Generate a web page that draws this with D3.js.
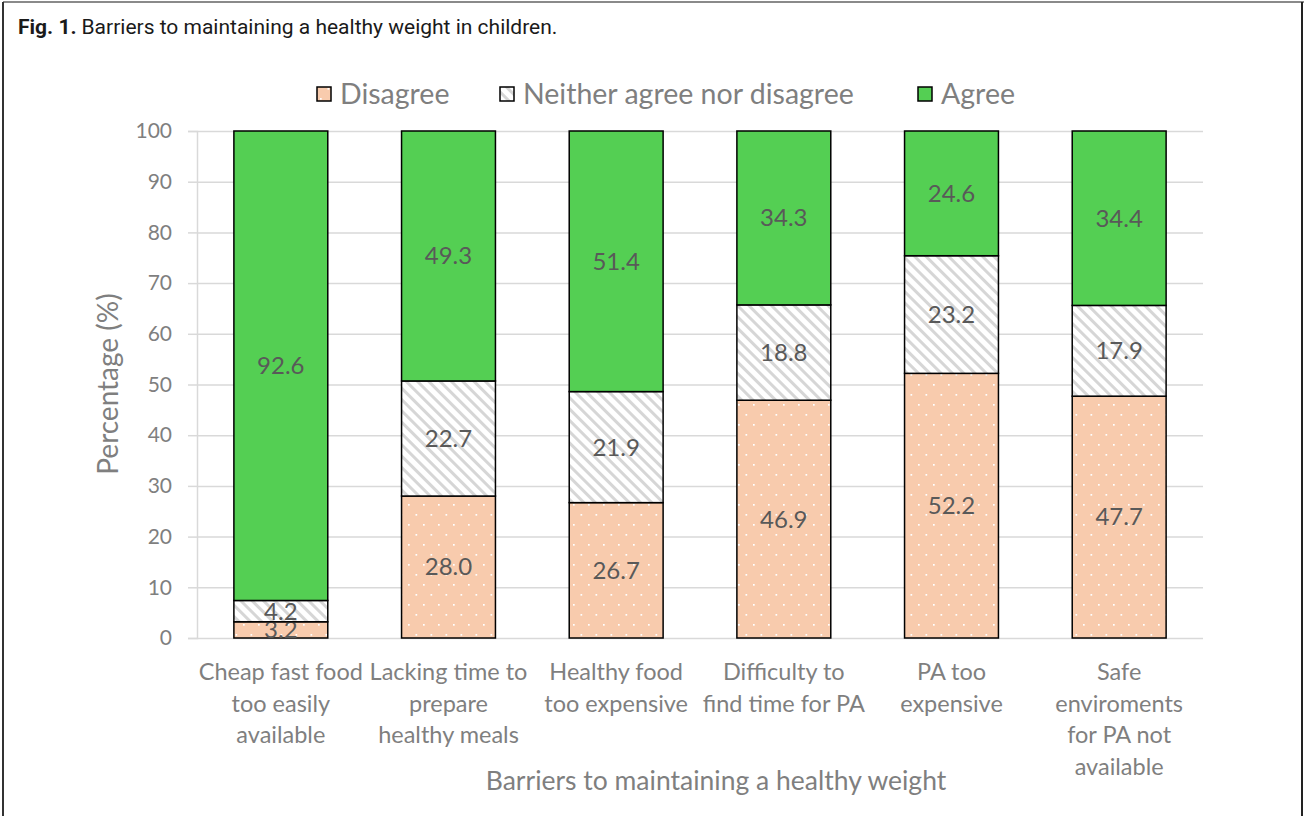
<!DOCTYPE html>
<html>
<head>
<meta charset="utf-8">
<script src="https://cdn.jsdelivr.net/npm/d3@7"></script>
<style>
  body { margin: 0; background: #fff; }
  svg { display: block; }
</style>
</head>
<body>
<div id="chart"></div>
<script>
const categories = [
    ["Cheap fast food", "too easily", "available"],
    ["Lacking time to", "prepare", "healthy meals"],
    ["Healthy food", "too expensive"],
    ["Difficulty to", "find time for PA"],
    ["PA too", "expensive"],
    ["Safe", "enviroments", "for PA not", "available"]
];
const disagree = [3.2, 28.0, 26.7, 46.9, 52.2, 47.7];
const neither = [4.2, 22.7, 21.9, 18.8, 23.2, 17.9];
const agree = [92.6, 49.3, 51.4, 34.3, 24.6, 34.4];
const seriesNames = ["Disagree", "Neither agree nor disagree", "Agree"];
const yTicks = [0, 10, 20, 30, 40, 50, 60, 70, 80, 90, 100];

const W = 1304, H = 816;
const plot = {left: 197, right: 1203, top: 131, bottom: 638};
const font = "Lato, 'Open Sans', sans-serif";

const svg = d3.select("#chart").append("svg")
    .attr("width", W)
    .attr("height", H);

// Patterns
const defs = svg.append("defs");
const dots = defs.append("pattern")
    .attr("id", "dots")
    .attr("patternUnits", "userSpaceOnUse")
    .attr("width", 15)
    .attr("height", 20);
dots.append("rect").attr("width", 15).attr("height", 20).attr("fill", "#f8cbad");
dots.append("rect").attr("x", 3).attr("y", 4).attr("width", 1.7).attr("height", 1.7).attr("fill", "#fff");
dots.append("rect").attr("x", 10.5).attr("y", 14).attr("width", 1.7).attr("height", 1.7).attr("fill", "#fff");

const stripes = defs.append("pattern")
    .attr("id", "stripes")
    .attr("patternUnits", "userSpaceOnUse")
    .attr("width", 8)
    .attr("height", 8)
    .attr("patternTransform", "rotate(-45)");
stripes.append("rect").attr("width", 8).attr("height", 8).attr("fill", "#fff");
stripes.append("rect").attr("x", 0).attr("width", 3).attr("height", 8).attr("fill", "#d6d6d6");

const fills = ["url(#dots)", "url(#stripes)", "#54cf53"];

// Figure frame
svg.append("line").attr("x1", 3).attr("x2", W).attr("y1", 2).attr("y2", 2)
    .attr("stroke", "#8a8a8a").attr("stroke-width", 2);
svg.append("line").attr("x1", 3).attr("x2", 3).attr("y1", 2).attr("y2", H)
    .attr("stroke", "#333").attr("stroke-width", 2);
svg.append("line").attr("x1", 1302).attr("x2", 1302).attr("y1", 2).attr("y2", H)
    .attr("stroke", "#222").attr("stroke-width", 2);

// Caption
const cap = svg.append("text")
    .attr("x", 18)
    .attr("y", 34)
    .style("font-family", "Roboto, sans-serif")
    .style("font-size", "21px")
    .attr("fill", "#1a1a1a");
cap.append("tspan").style("font-weight", "bold").text("Fig. 1.");
cap.append("tspan").attr("dx", 5).text("Barriers to maintaining a healthy weight in children.");

// Scales
const xScale = d3.scaleBand()
    .domain(d3.range(categories.length))
    .range([plot.left, plot.right])
    .paddingInner(0.44)
    .paddingOuter(0.22);

const yScale = d3.scaleLinear()
    .domain([0, 100])
    .range([plot.bottom, plot.top]);

// Gridlines
svg.append("g")
    .attr("transform", `translate(${plot.left}, 0)`)
    .call(d3.axisLeft(yScale)
        .tickValues(yTicks)
        .tickSize(-(plot.right - plot.left))
        .tickFormat(""))
    .call(g => g.select(".domain").remove())
    .selectAll(".tick line")
    .attr("stroke", "#d9d9d9")
    .attr("stroke-width", 1.5);

// Y axis ticks and line
svg.append("g")
    .attr("transform", `translate(${plot.left}, 0)`)
    .call(d3.axisLeft(yScale)
        .tickValues(yTicks)
        .tickSize(9)
        .tickPadding(16))
    .call(g => g.select(".domain").attr("stroke", "#d9d9d9").attr("stroke-width", 1.5))
    .call(g => g.selectAll(".tick line").attr("stroke", "#d9d9d9").attr("stroke-width", 1.5))
    .call(g => g.selectAll(".tick text")
        .style("font-family", font)
        .style("font-size", "21px")
        .attr("fill", "#7f7f7f"));

// Stacked bars
const rows = categories.map((c, i) => ({i: i, disagree: disagree[i], neither: neither[i], agree: agree[i]}));
const stack = d3.stack().keys(["disagree", "neither", "agree"])(rows);

const layers = svg.append("g")
    .selectAll("g")
    .data(stack)
    .join("g")
    .attr("fill", (d, k) => fills[k]);

layers.selectAll("rect")
    .data(d => d)
    .join("rect")
    .attr("x", d => xScale(d.data.i))
    .attr("y", d => yScale(d[1]))
    .attr("width", xScale.bandwidth())
    .attr("height", d => yScale(d[0]) - yScale(d[1]))
    .attr("stroke", "#000")
    .attr("stroke-width", 1.5);

// Data labels
layers.selectAll("text")
    .data(d => d)
    .join("text")
    .attr("x", d => xScale(d.data.i) + xScale.bandwidth() / 2)
    .attr("y", d => (yScale(d[0]) + yScale(d[1])) / 2)
    .attr("dy", "0.35em")
    .attr("text-anchor", "middle")
    .style("font-family", font)
    .style("font-size", "24px")
    .attr("fill", "#595959")
    .text(d => (d[1] - d[0]).toFixed(1));

// Category labels
svg.append("g")
    .selectAll("text")
    .data(categories)
    .join("text")
    .attr("x", (d, i) => xScale(i) + xScale.bandwidth() / 2)
    .attr("y", 680)
    .attr("text-anchor", "middle")
    .style("font-family", font)
    .style("font-size", "23.5px")
    .attr("fill", "#7f7f7f")
    .selectAll("tspan")
    .data(d => d)
    .join("tspan")
    .attr("x", function () { return this.parentNode.getAttribute("x"); })
    .attr("dy", (d, j) => j === 0 ? 0 : 31.5)
    .text(d => d);

// Axis titles
svg.append("text")
    .attr("x", 716)
    .attr("y", 790)
    .attr("text-anchor", "middle")
    .style("font-family", font)
    .style("font-size", "26.5px")
    .attr("fill", "#7f7f7f")
    .text("Barriers to maintaining a healthy weight");

svg.append("text")
    .attr("transform", "rotate(-90)")
    .attr("x", -384)
    .attr("y", 118)
    .attr("text-anchor", "middle")
    .style("font-family", font)
    .style("font-size", "28px")
    .attr("fill", "#7f7f7f")
    .text("Percentage (%)");

// Legend
const legendX = [317, 500, 918];
const legend = svg.append("g")
    .selectAll("g")
    .data(seriesNames)
    .join("g")
    .attr("transform", (d, k) => `translate(${legendX[k]}, 94)`);

legend.append("rect")
    .attr("x", 0)
    .attr("y", -7)
    .attr("width", 14)
    .attr("height", 14)
    .attr("fill", (d, k) => fills[k])
    .attr("stroke", "#000")
    .attr("stroke-width", 1.5);

legend.append("text")
    .attr("x", 23)
    .attr("dy", "0.35em")
    .style("font-family", font)
    .style("font-size", "28.5px")
    .attr("fill", "#7f7f7f")
    .text(d => d);
</script>
</body>
</html>
